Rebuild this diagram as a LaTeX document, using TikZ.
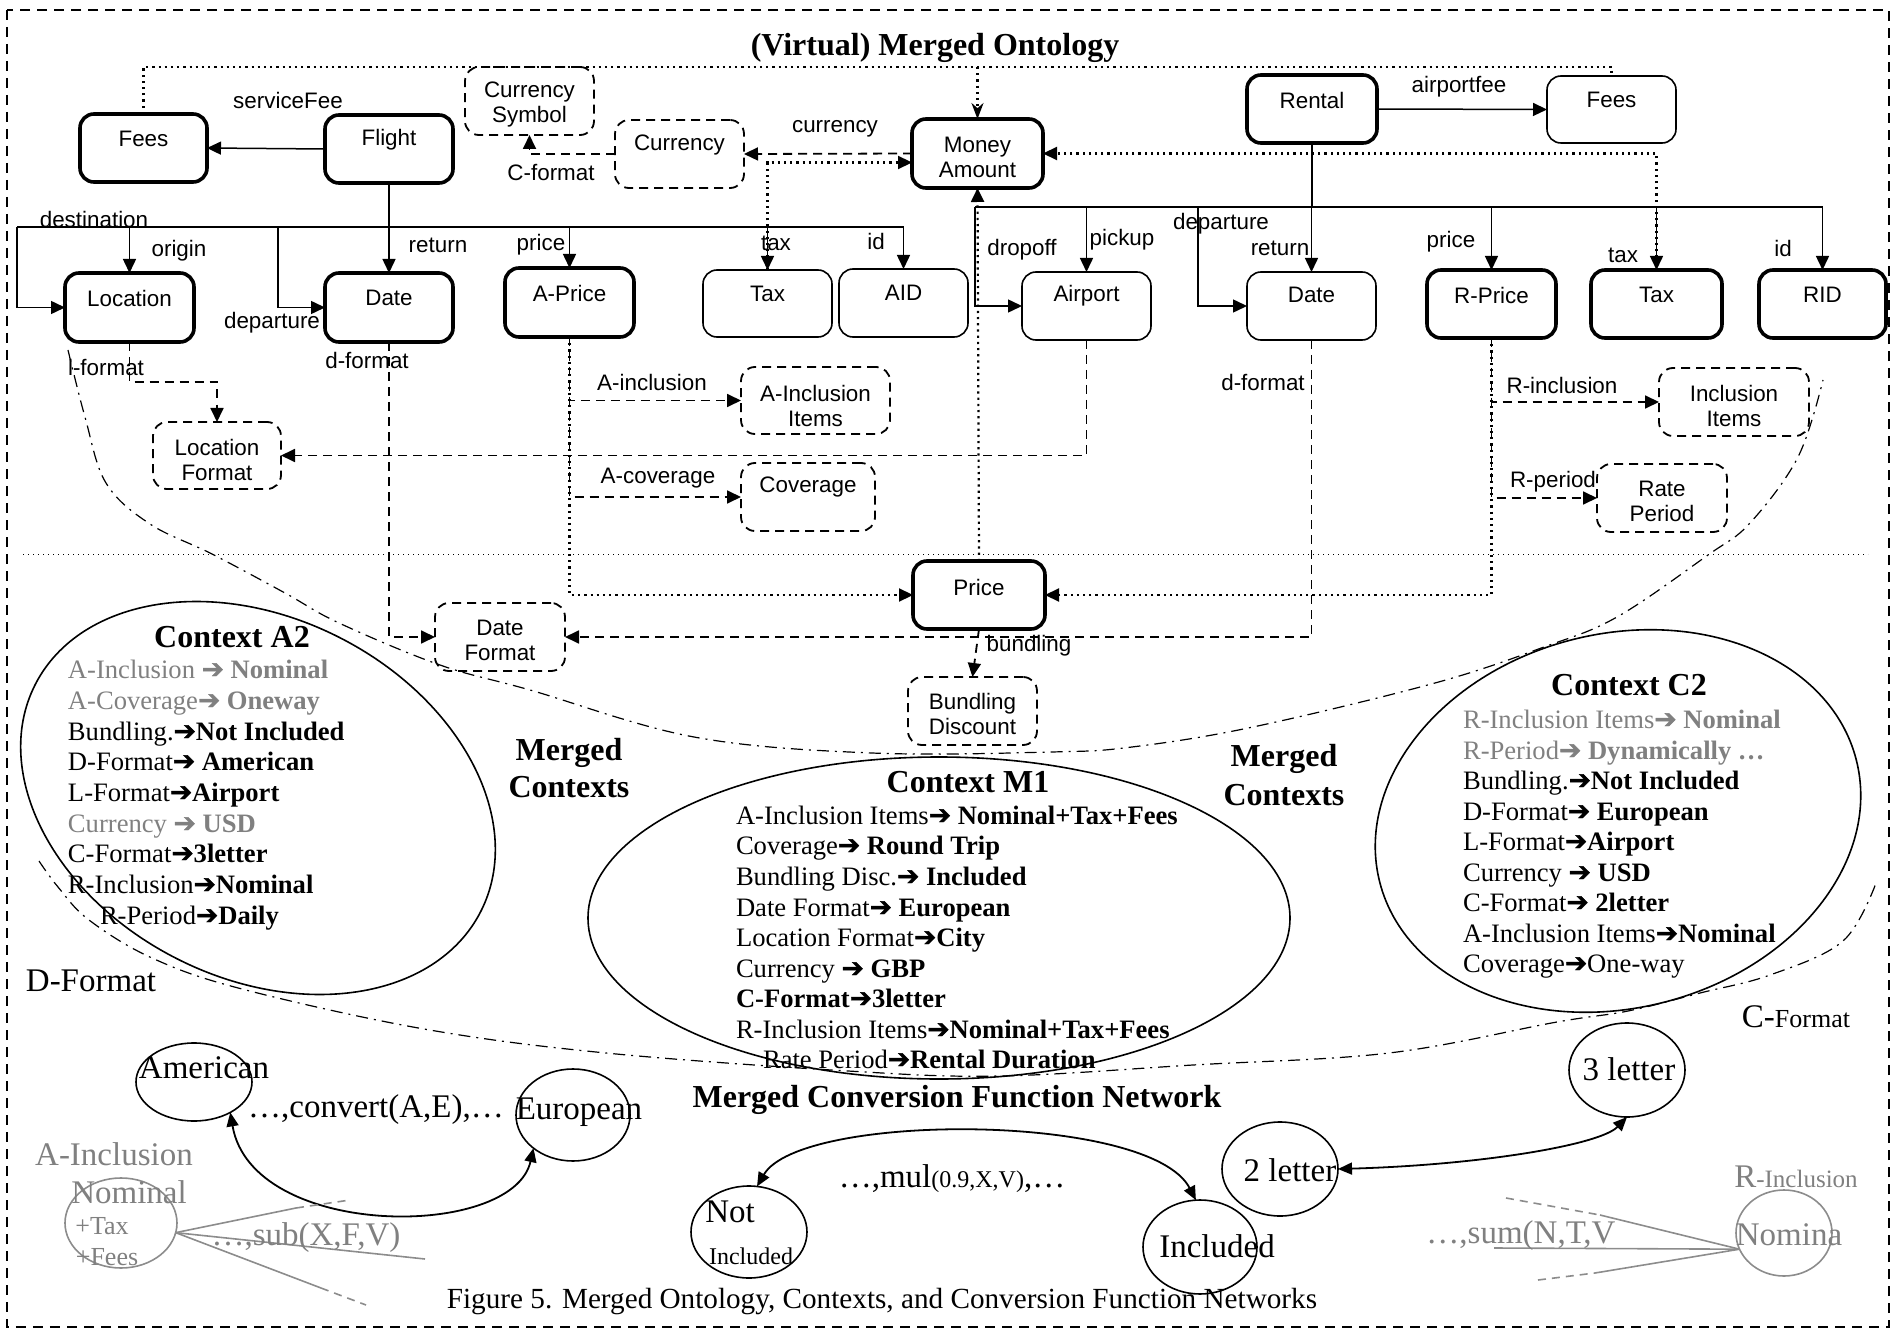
\documentclass[tikz,border=0pt]{standalone}
\usepackage{fontspec}
\setmainfont{Liberation Serif}
\newfontfamily\arial{Liberation Sans}
\newfontfamily\arrfont[FakeBold=1.5]{DejaVu Sans}
\usetikzlibrary{arrows.meta,fit,shapes.geometric,calc}
\definecolor{txtgray}{RGB}{128,128,128}
\definecolor{lngray}{RGB}{140,140,140}
\newcommand{\ar}{{\arrfont\mdseries ➔}}
\newcommand{\ctxf}{\fontsize{13.3}{15}\selectfont}
\newcommand{\bigf}{\fontsize{16}{19}\selectfont}
\newcommand{\cvf}{\fontsize{16.5}{19}\selectfont}
\begin{document}
\begin{tikzpicture}[x=0.5pt,y=-0.5pt,
  every node/.style={inner sep=0pt, outer sep=0pt},
  obj/.style={draw, rounded corners=7pt, inner sep=0pt},
  thk/.style={obj, line width=1.8pt},
  thn/.style={obj, line width=0.8pt},
  dsh/.style={obj, line width=0.9pt, dash pattern=on 4.5pt off 3pt},
  lbl/.style={font=\arial\fontsize{11.2}{12.5}\selectfont, align=center},
  ln/.style={line width=0.75pt},
  tip/.style={-{Triangle[length=7pt,width=6.5pt]}},
  arr/.style={ln, tip},
  dotarr/.style={line width=1.1pt, dotted, tip},
  dasharr/.style={line width=0.9pt, dash pattern=on 4.5pt off 3pt, tip},
  dashdot/.style={line width=0.6pt, dash pattern=on 6pt off 3pt on 1pt off 3pt},
  ctx/.style={font=\ctxf, anchor=base west},
  ttl/.style={font=\bigf\bfseries, align=center},
  cv/.style={font=\cvf},
  circ/.style={draw, ellipse, line width=0.8pt},
  gcirc/.style={draw=lngray, ellipse, line width=0.8pt},
  gl/.style={draw=lngray, line width=0.8pt},
  gld/.style={draw=lngray, line width=0.8pt, dash pattern=on 4pt off 3pt},
  both/.style={line width=0.9pt, {Triangle[length=7pt,width=6pt]}-{Triangle[length=7pt,width=6pt]}}
]
\useasboundingbox (0,0) rectangle (1902,1332);
\draw[line width=0.6pt, dash pattern=on 5pt off 3.5pt] (7,10) rectangle (1889,1327);

% title
\node[ttl] (title) at (935,48) {(Virtual) Merged Ontology};

% ---- boxes ----
\node[thk, fit={(80,114) (207,182)}, label={[lbl,yshift=4.5pt]center:Fees}] (feesL) {};
\node[thk, fit={(325,115) (453,183)}, label={[lbl,yshift=4.75pt]center:Flight}] (flight) {};
\node[dsh, fit={(465,67) (594,135)}, label={[lbl,yshift=-1.75pt]center:Currency\\Symbol}] (cursym) {};
\node[dsh, fit={(615,120) (744,188)}, label={[lbl,yshift=4.5pt]center:Currency}] (cur) {};
\node[thk, fit={(912,119) (1043,188)}, label={[lbl,yshift=-1.75pt]center:Money\\Amount}] (money) {};
\node[thk, fit={(1247,75) (1377,143)}, label={[lbl,yshift=4.5pt]center:Rental}] (rental) {};
\node[thn, fit={(1547,76) (1676,143)}, label={[lbl,yshift=5pt]center:Fees}] (feesR) {};
\node[thk, fit={(65,273) (194,342)}, label={[lbl,yshift=4.75pt]center:Location}] (loc) {};
\node[thk, fit={(325,273) (453,342)}, label={[lbl,yshift=5pt]center:Date}] (dateL) {};
\node[thk, fit={(505,268) (634,337)}, label={[lbl,yshift=4.5pt]center:A-Price}] (aprice) {};
\node[thn, fit={(703,270) (832,337)}, label={[lbl,yshift=5pt]center:Tax}] (taxL) {};
\node[thn, fit={(839,269) (968,337)}, label={[lbl,yshift=5pt]center:AID}] (aid) {};
\node[thn, fit={(1022,272) (1151,340)}, label={[lbl,yshift=5pt]center:Airport}] (airport) {};
\node[thn, fit={(1247,272) (1376,340)}, label={[lbl,yshift=5.5pt]center:Date}] (dateR) {};
\node[thk, fit={(1427,270) (1556,338)}, label={[lbl,yshift=4.5pt]center:R-Price}] (rprice) {};
\node[thk, fit={(1591,270) (1722,338)}, label={[lbl,yshift=4.5pt]center:Tax}] (taxR) {};
\node[thk, fit={(1759,270) (1886,338)}, label={[lbl,yshift=4.5pt]center:RID}] (rid) {};
\node[dsh, fit={(153,422) (281,489)}, label={[lbl,yshift=-2.25pt]center:Location\\Format}] (locfmt) {};
\node[dsh, fit={(741,367) (890,434)}, label={[lbl,yshift=-2.5pt]center:A-Inclusion\\Items}] (aincl) {};
\node[dsh, fit={(741,463) (875,531)}, label={[lbl,yshift=5pt]center:Coverage}] (cov) {};
\node[dsh, fit={(1659,368) (1809,436)}, label={[lbl,yshift=-1.75pt]center:Inclusion\\Items}] (inclI) {};
\node[dsh, fit={(1597,464) (1727,532)}, label={[lbl,yshift=-1.5pt]center:Rate\\Period}] (rate) {};
\node[thk, fit={(913,561) (1045,629)}, label={[lbl,yshift=4pt]center:Price}] (price) {};
\node[dsh, fit={(435,603) (565,671)}, label={[lbl,yshift=-1.5pt]center:Date\\Format}] (datefmt) {};
\node[dsh, fit={(908,677) (1037,745)}, label={[lbl,yshift=-1.5pt]center:Bundling\\Discount}] (bund) {};

% ---- Flight bus ----
\coordinate (busF) at (0,227);
\coordinate (fbL) at (17,227);
\coordinate (fdep) at (278,227);
\draw[ln] (flight.south) -- (flight.south |- busF);
\draw[ln] (fbL) -- (aid.north |- busF);
\draw[arr] (fbL) |- (loc.west);
\draw[arr] (loc.north |- busF) -- (loc.north);
\draw[arr] (fdep) |- (dateL.west);
\draw[arr] (dateL.north |- busF) -- (dateL.north);
\draw[arr] (aprice.north |- busF) -- (aprice.north);
\draw[arr] (taxL.north |- busF) -- (taxL.north);
\draw[arr] (aid.north |- busF) -- (aid.north);
\draw[arr] (flight.west) -- (feesL.east);

% ---- Rental bus ----
\coordinate (busR) at (0,207);
\coordinate (rbL) at (975,207);
\coordinate (rdep) at (1198,207);
\draw[ln] (rental.south) -- (rental.south |- busR);
\draw[ln] (rbL) -- (rid.north |- busR);
\draw[arr] (rbL) |- (airport.west);
\draw[arr] (airport.north |- busR) -- (airport.north);
\draw[arr] (rdep) |- (dateR.west);
\draw[arr] (dateR.north |- busR) -- (dateR.north);
\draw[arr] (rprice.north |- busR) -- (rprice.north);
\draw[arr] (taxR.north |- busR) -- (taxR.north);
\draw[arr] (rid.north |- busR) -- (rid.north);
\draw[arr] (rental.east) -- (feesR.west);

% ---- dotted (is-a) ----
\coordinate (topY) at (0,67);
\draw[line width=1.1pt, dotted] (feesL.north) -- (feesL.north |- topY) -- (feesR.north |- topY) -- (feesR.north);
\draw[line width=1.1pt, dotted, -{Stealth[length=8pt,width=6pt]}] (money.north |- topY) -- (money.north);
\coordinate (mL) at ($(money.west)+(0,9)$);
\draw[dotarr] (taxL.north) |- (mL);
\draw[dotarr] (taxR.north) |- (money.east);
\draw[dotarr] (price.north) -- (money.south);
\draw[dotarr] (aprice.south) |- (price.west);
\draw[dotarr] (rprice.south) |- (price.east);

% ---- dashed (modifiers) ----
\draw[dasharr] (money.west) -- (cur.east);
\draw[dasharr] (cur.west) -| (cursym.south);
\draw[dasharr] (loc.south) -- ++(0,40) -| (locfmt.north);
\draw[dasharr] (airport.south) |- (locfmt.east);
\draw[dasharr] (dateL.south) |- (datefmt.west);
\draw[dasharr] (dateR.south) |- (datefmt.east);
\draw[dasharr] (aprice.south) |- (aincl.west);
\draw[dasharr] (aprice.south) |- (cov.west);
\draw[dasharr] (rprice.south) |- (inclI.west);
\draw[dasharr] (rprice.south) |- (rate.west);
\draw[dasharr] (price.south) -- (bund.north);

% ---- edge labels ----
\node[lbl] (l1) at (288,100) {serviceFee};
\node[lbl] (l2) at (551,173) {C-format};
\node[lbl] (l3) at (835,129) {currency};
\node[lbl] (l4) at (94,219) {destination};
\node[lbl] (l5) at (179,251) {origin};
\node[lbl] (l6) at (272,323) {departure};
\node[lbl] (l7) at (438,245) {return};
\node[lbl] (l8) at (541,245) {price};
\node[lbl] (l9) at (776,243) {tax};
\node[lbl] (l10) at (876,241) {id};
\node[lbl] (l11) at (1459,87) {airportfee};
\node[lbl] (l12) at (1022,250) {dropoff};
\node[lbl] (l13) at (1122,240) {pickup};
\node[lbl] (l14) at (1221,224) {departure};
\node[lbl] (l15) at (1280,248) {return};
\node[lbl] (l16) at (1451,242) {price};
\node[lbl] (l17) at (1623,255) {tax};
\node[lbl] (l18) at (1783,248) {id};
\node[lbl] (l19) at (106,367) {l-format};
\node[lbl] (l20) at (367,360) {d-format};
\node[lbl] (l21) at (1263,382) {d-format};
\node[lbl] (l22) at (652,382) {A-inclusion};
\node[lbl] (l23) at (658,478) {A-coverage};
\node[lbl] (l24) at (1562,385) {R-inclusion};
\node[lbl] (l25) at (1553,482) {R-period};
\node[lbl] (l26) at (1029,646) {bundling};

% ---- separator ----
\draw[line width=0.5pt, dotted] (23,554) -- (1868,554);

% ---- dash-dot boundary curves ----
\draw[dashdot] plot[smooth, tension=0.6] coordinates {(68,350) (85,417) (106,483) (150,524) (212,554) (285,593) (339,623) (440,665) (530,690) (694,737) (872,753) (1051,752) (1132,747) (1253,727) (1435,683) (1544,647) (1617,617) (1708,555) (1750,523) (1798,457) (1823,380)};
\draw[dashdot] plot[smooth, tension=0.6] coordinates {(39,861) (58,887) (89,920) (152,958) (242,989) (424,1029) (606,1053) (848,1071) (1000,1076) (1193,1065) (1389,1053) (1557,1022) (1628,1011) (1700,993) (1770,975) (1843,941) (1876,883)};

% ---- context ellipses ----
\draw[line width=0.8pt, rotate around={-27:(258,798)}] (258,798) ellipse [x radius=125pt, y radius=90pt];
\draw[line width=0.8pt] (939,918) ellipse [x radius=175.5pt, y radius=80.5pt];
\draw[line width=0.8pt, rotate around={14.5:(1618,821)}] (1618,821) ellipse [x radius=123pt, y radius=93.5pt];

\node[ttl] (ctA) at (232,637) {Context A2};
\node[ttl] (ctM) at (968,782) {Context M1};
\node[ttl] (ctC) at (1629,685) {Context C2};
\node[ttl, font=\fontsize{16}{18.5}\selectfont\bfseries] (mc1) at (569,768) {Merged\\Contexts};
\node[ttl, font=\fontsize{16}{19.5}\selectfont\bfseries] (mc2) at (1284,775) {Merged\\Contexts};

% Context A2 lines
\node[ctx] (a1) at (68,678) {\textcolor{txtgray}{A-Inclusion \ar\ \textbf{Nominal}}};
\node[ctx] (a2) at (68,709) {\textcolor{txtgray}{A-Coverage\ar\ \textbf{Oneway}}};
\node[ctx] (a3) at (68,740) {Bundling.\ar\textbf{Not Included}};
\node[ctx] (a4) at (68,770) {D-Format\ar\ \textbf{American}};
\node[ctx] (a5) at (68,801) {L-Format\ar\textbf{Airport}};
\node[ctx] (a6) at (68,832) {\textcolor{txtgray}{Currency \ar\ \textbf{USD}}};
\node[ctx] (a7) at (68,862) {C-Format\ar\textbf{3letter}};
\node[ctx] (a8) at (68,893) {R-Inclusion\ar\textbf{Nominal}};
\node[ctx] (a9) at (100,924) {R-Period\ar\textbf{Daily}};

% Context M1 lines
\node[ctx] (m1) at (736,824) {A-Inclusion Items\ar\ \textbf{Nominal+Tax+Fees}};
\node[ctx] (m2) at (736,854) {Coverage\ar\ \textbf{Round Trip}};
\node[ctx] (m3) at (736,885) {Bundling Disc.\ar\ \textbf{Included}};
\node[ctx] (m4) at (736,916) {Date Format\ar\ \textbf{European}};
\node[ctx] (m5) at (736,946) {Location Format\ar\textbf{City}};
\node[ctx] (m6) at (736,977) {Currency \ar\ \textbf{GBP}};
\node[ctx] (m7) at (736,1007) {\textbf{C-Format\ar3letter}};
\node[ctx] (m8) at (736,1038) {R-Inclusion Items\ar\textbf{Nominal+Tax+Fees}};
\node[ctx] (m9) at (763,1068) {Rate Period\ar\textbf{Rental Duration}};

% Context C2 lines
\node[ctx] (c1) at (1463,728) {\textcolor{txtgray}{R-Inclusion Items\ar\ \textbf{Nominal}}};
\node[ctx] (c2) at (1463,759) {\textcolor{txtgray}{R-Period\ar\ \textbf{Dynamically …}}};
\node[ctx] (c3) at (1463,789) {Bundling.\ar\textbf{Not Included}};
\node[ctx] (c4) at (1463,820) {D-Format\ar\ \textbf{European}};
\node[ctx] (c5) at (1463,850) {L-Format\ar\textbf{Airport}};
\node[ctx] (c6) at (1463,881) {Currency \ar\ \textbf{USD}};
\node[ctx] (c7) at (1463,911) {C-Format\ar\ \textbf{2letter}};
\node[ctx] (c8) at (1463,942) {A-Inclusion Items\ar\textbf{Nominal}};
\node[ctx] (c9) at (1463,972) {Coverage\ar One-way};

% ---- conversion function network ----
\node[cv] (dfmt) at (91,981) {D-Format};
\node[cv] (cfmt) at (1796,1017) {C-{\fontsize{13}{15}\selectfont Format}};
\node[ttl] (mcfn) at (957,1100) {Merged Conversion Function Network};

\node[circ, minimum width=58pt, minimum height=39pt] (amer) at (194,1082) {};
\node[cv] (amerT) at (204,1068) {American};
\node[circ, minimum width=57pt, minimum height=46pt] (euro) at (573,1115) {};
\node[cv] (euroT) at (579,1112) {European};
\node[cv] (conv) at (376,1110) {…,convert(A,E),…};
\draw[both] (amer.-40) .. controls (252,1240) and (513,1240) .. (euro.220);

\node[circ, minimum width=58pt, minimum height=46pt] (notinc) at (749,1232) {};
\node[cv] (notincT1) at (730,1212) {Not};
\node[font=\fontsize{12}{14}\selectfont] (notincT2) at (751,1256) {Included};
\node[circ, minimum width=57pt, minimum height=47pt] (inc) at (1200,1247) {};
\node[cv] (incT) at (1217,1246) {Included};
\draw[both] (notinc.80) .. controls (800,1112) and (1150,1112) .. (inc.95);
\node[cv] (mul) at (952,1179) {…,mul{\fontsize{12}{14}\selectfont(0.9,X,V)},…};

\node[circ, minimum width=58pt, minimum height=47pt] (twol) at (1280,1169) {};
\node[cv] (twolT) at (1290,1170) {2 letter};
\node[circ, minimum width=58pt, minimum height=47pt] (threel) at (1627,1070) {};
\node[cv] (threelT) at (1629,1069) {3 letter};
\draw[both] (twol.east) .. controls (1480,1165) and (1600,1145) .. (threel.south);

% gray A-Inclusion
\node[cv, text=txtgray] (aincT) at (114,1154) {A-Inclusion};
\node[gcirc, minimum width=56pt, minimum height=45pt] (ainc) at (121,1223) {};
\node[cv, text=txtgray] (aincN) at (129,1192) {Nominal};
\node[font=\fontsize{13}{15}\selectfont, text=txtgray] (aincTx) at (102,1226) {+Tax};
\node[font=\fontsize{13}{15}\selectfont, text=txtgray] (aincF) at (107,1257) {+Fees};
\coordinate (g1a) at (296,1208);
\coordinate (g1b) at (350,1200);
\coordinate (g2) at (425,1259);
\coordinate (g3a) at (321,1288);
\coordinate (g3b) at (366,1305);
\draw[gl] (ainc.-10) -- (g1a);
\draw[gld] (g1a) -- (g1b);
\draw[gl] (ainc.-10) -- (g2);
\draw[gl] (ainc.-10) -- (g3a);
\draw[gld] (g3a) -- (g3b);
\node[cv, text=txtgray] (sub) at (306,1238) {…,sub(X,F,V)};

% gray R-Inclusion
\node[text=txtgray] (rincT) at (1796,1177) {{\cvf R}{\fontsize{12.5}{15}\selectfont -Inclusion}};
\node[gcirc, minimum width=48pt, minimum height=43pt] (rinc) at (1784,1233) {};
\node[cv, text=txtgray] (rincN) at (1789,1235) {Nomina};
\coordinate (h1a) at (1506,1198);
\coordinate (h1b) at (1600,1215);
\coordinate (h2) at (1494,1248);
\coordinate (h3a) at (1538,1280);
\coordinate (h3b) at (1595,1273);
\draw[gld] (h1a) -- (h1b);
\draw[gl] (h1b) -- (rinc.200);
\draw[gl] (h2) -- (rinc.200);
\draw[gld] (h3a) -- (h3b);
\draw[gl] (h3b) -- (rinc.200);
\node[cv, text=txtgray] (sum) at (1521,1236) {…,sum(N,T,V};

% caption
\node[font=\fontsize{14.6}{17}\selectfont] (cap) at (882,1302) {Figure 5. Merged Ontology, Contexts, and Conversion Function Networks};
\end{tikzpicture}
\end{document}
